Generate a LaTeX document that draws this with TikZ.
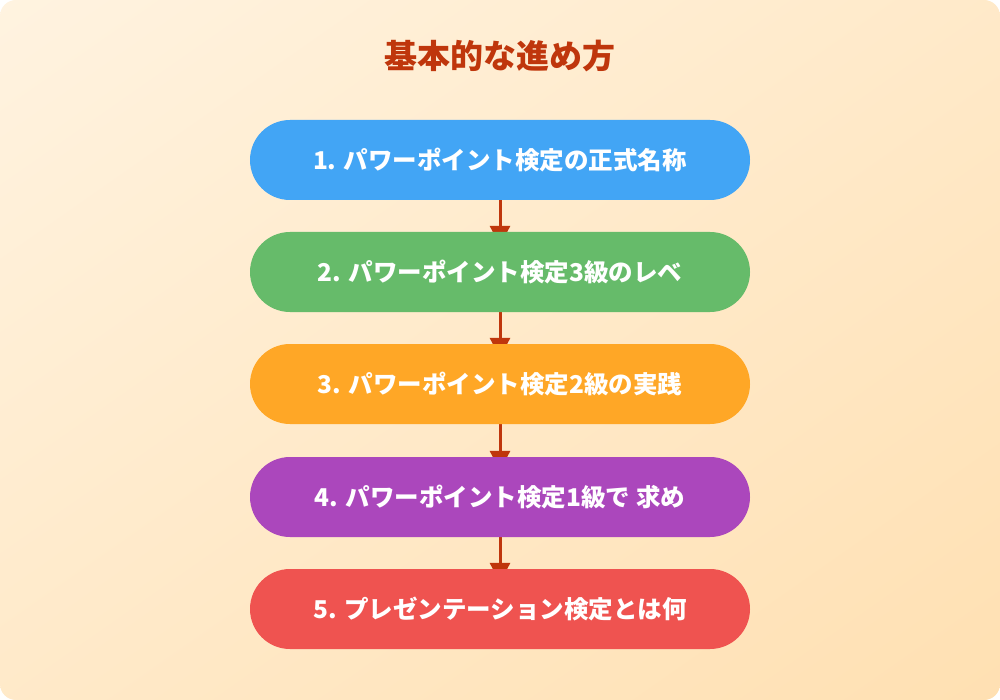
\documentclass[tikz,border=0pt]{standalone}
\usepackage{fontspec}
\setmainfont{Noto Sans CJK JP}
\usetikzlibrary{arrows.meta,shadings}
\definecolor{bgA}{HTML}{FFF3E0}
\definecolor{bgB}{HTML}{FFE0B2}
\definecolor{titlec}{HTML}{BF360C}
\definecolor{arrowc}{HTML}{BF360C}
\definecolor{c1}{HTML}{42A5F5}
\definecolor{c2}{HTML}{66BB6A}
\definecolor{c3}{HTML}{FFA726}
\definecolor{c4}{HTML}{AB47BC}
\definecolor{c5}{HTML}{EF5350}
\colorlet{bgM}{bgA!50!bgB}
\pgfdeclarelayer{bg}
\pgfdeclarelayer{conn}
\pgfsetlayers{bg,conn,main}
\tikzset{
  stepbox/.style={rectangle, rounded corners=40pt, minimum width=500pt, minimum height=80pt,
    inner sep=0pt, text=white, font=\fontsize{24.5}{28}\selectfont\bfseries},
  flow/.style={draw=arrowc, line width=3pt, -{Triangle[width=20pt,length=20pt]}, shorten >=-14pt}
}
\begin{document}
\begin{tikzpicture}[x=1pt,y=-1pt]
\useasboundingbox (0,0) rectangle (1000,700);
\node[font=\fontsize{33}{36}\selectfont\bfseries, text=titlec] (title) at (500,56) {基本的な進め方};
\node[stepbox, fill=c1] (s1) at (500,160) {1. パワーポイント検定の正式名称};
\node[stepbox, fill=c2] (s2) at (500,272) {2. パワーポイント検定3級のレベ};
\node[stepbox, fill=c3] (s3) at (500,384) {3. パワーポイント検定2級の実践};
\node[stepbox, fill=c4] (s4) at (500,497) {4. パワーポイント検定1級で 求め};
\node[stepbox, fill=c5] (s5) at (500,609) {5. プレゼンテーション検定とは何};
\begin{pgfonlayer}{bg}
\shade[rounded corners=16pt, upper left=bgA, lower right=bgB,
  upper right=bgM, lower left=bgM] (0,0) rectangle (1000,700);
\end{pgfonlayer}
\begin{pgfonlayer}{conn}
\draw[flow] (s1.south) -- (s2.north);
\draw[flow] (s2.south) -- (s3.north);
\draw[flow] (s3.south) -- (s4.north);
\draw[flow] (s4.south) -- (s5.north);
\end{pgfonlayer}
\end{tikzpicture}
\end{document}
